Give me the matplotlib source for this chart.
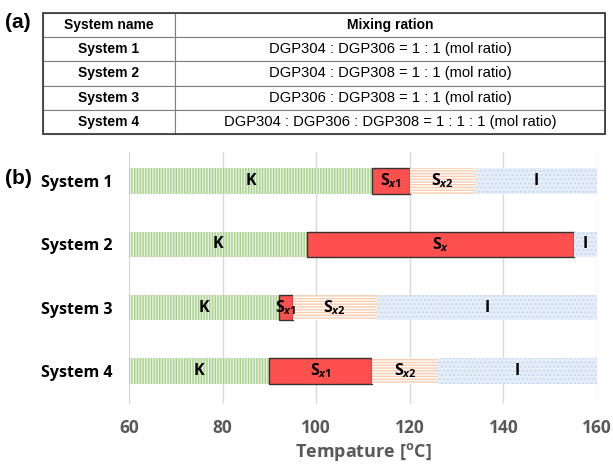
import numpy as np
import matplotlib
matplotlib.use("Agg")
import matplotlib.pyplot as plt
from matplotlib.patches import Rectangle
from matplotlib.font_manager import FontProperties

# ---- data ----
systems = ["System 1", "System 2", "System 3", "System 4"]
ratios = ["DGP304 : DGP306 = 1 : 1 (mol ratio)",
          "DGP304 : DGP308 = 1 : 1 (mol ratio)",
          "DGP306 : DGP308 = 1 : 1 (mol ratio)",
          "DGP304 : DGP306 : DGP308 = 1 : 1 : 1 (mol ratio)"]
table_header = ["System name", "Mixing ration"]

# phase boundaries (name, start, end) per system
phases = [
    [("K", 60, 112), ("Sx1", 112, 120), ("Sx2", 120, 134), ("I", 134, 160)],
    [("K", 60, 98), ("Sx", 98, 155), ("I", 155, 160)],
    [("K", 60, 92), ("Sx1", 92, 95), ("Sx2", 95, 113), ("I", 113, 160)],
    [("K", 60, 90), ("Sx1", 90, 112), ("Sx2", 112, 126), ("I", 126, 160)],
]
xticks = [60, 80, 100, 120, 140, 160]

labels = {"K": "K", "Sx": r"S$_{x}$", "Sx1": r"S$_{x1}$",
          "Sx2": r"S$_{x2}$", "I": "I"}
styles = {
    "K": dict(facecolor="#e6f2de", hatch="||||||", edgecolor="#a9d18e", lw=0),
    "Sx": dict(facecolor="#ff5050", edgecolor="#333333", lw=1.0),
    "Sx1": dict(facecolor="#ff5050", edgecolor="#333333", lw=1.0),
    "Sx2": dict(facecolor="white", hatch="------", edgecolor="#f8cbad", lw=0),
    "I": dict(facecolor="#e6eef8", hatch="....", edgecolor="#c5daf0", lw=0),
}

plt.rcParams["mathtext.fontset"] = "custom"
plt.rcParams["mathtext.rm"] = "Open Sans:bold"
plt.rcParams["mathtext.it"] = "Open Sans:bold:italic"
plt.rcParams["hatch.linewidth"] = 1.0

fig = plt.figure(figsize=(6.13, 4.71), dpi=100)

# ---- (a) table ----
W, H = 613.0, 471.0
tax = fig.add_axes([43 / W, 1 - 134 / H, (605 - 43) / W, (134 - 13) / H])
tax.axis("off")
cell = [[s, r] for s, r in zip(systems, ratios)]
tbl = tax.table(cellText=cell, colLabels=table_header, bbox=[0, 0, 1, 1],
                colWidths=[132, 430], cellLoc="center")
tbl.auto_set_font_size(False)
for (r, c), cl in tbl.get_celld().items():
    cl.set_edgecolor("#7f7f7f")
    cl.set_linewidth(0.8)
    bold = (r == 0) or (c == 0)
    cl.get_text().set_fontproperties(FontProperties(
        family="Liberation Sans", weight="bold" if bold else "normal",
        size=10 if bold else 10.6))
tax.add_patch(Rectangle((0, 0), 1, 1, transform=tax.transAxes, fill=False,
                        edgecolor="#404040", lw=1.3, clip_on=False))

fig.text(5 / W, 1 - 22 / H, "(a)", fontsize=15, fontweight="bold",
         family="Liberation Sans", va="center", ha="left")
fig.text(5 / W, 1 - 178 / H, "(b)", fontsize=15, fontweight="bold",
         family="Liberation Sans", va="center", ha="left")

# ---- (b) phase bars ----
ax = fig.add_axes([129 / W, 1 - 404 / H, (597 - 129) / W, (404 - 152) / H])
bar_h = 0.4
for i, segs in enumerate(phases):
    for name, a, b in segs:
        ax.barh(i, b - a, left=a, height=bar_h, zorder=2, **styles[name])
        ax.text((a + b) / 2, i, labels[name], ha="center", va="center",
                fontsize=11.5, fontweight="bold", family="Open Sans", zorder=3)

ax.set_xlim(60, 160)
ax.set_ylim(3.52, -0.46)
ax.set_xticks(xticks)
ax.set_yticks(range(len(systems)))
ax.set_yticklabels(systems, fontsize=11.5, fontweight="bold", family="Open Sans")
for lb in ax.get_xticklabels():
    lb.set_fontsize(12.5)
    lb.set_fontweight("bold")
    lb.set_family("Open Sans")
    lb.set_color("#595959")
ax.tick_params(axis="both", length=0)
ax.tick_params(axis="x", pad=11)
ax.tick_params(axis="y", pad=12)
ax.grid(axis="x", color="#d9d9d9", lw=1, zorder=0)
for s in ax.spines.values():
    s.set_visible(False)
ax.set_xlabel("Tempature [$^\\mathrm{o}$C]", fontsize=13, fontweight="bold",
              family="Open Sans", color="#595959", labelpad=3)

fig.savefig("out.png", dpi=100)
